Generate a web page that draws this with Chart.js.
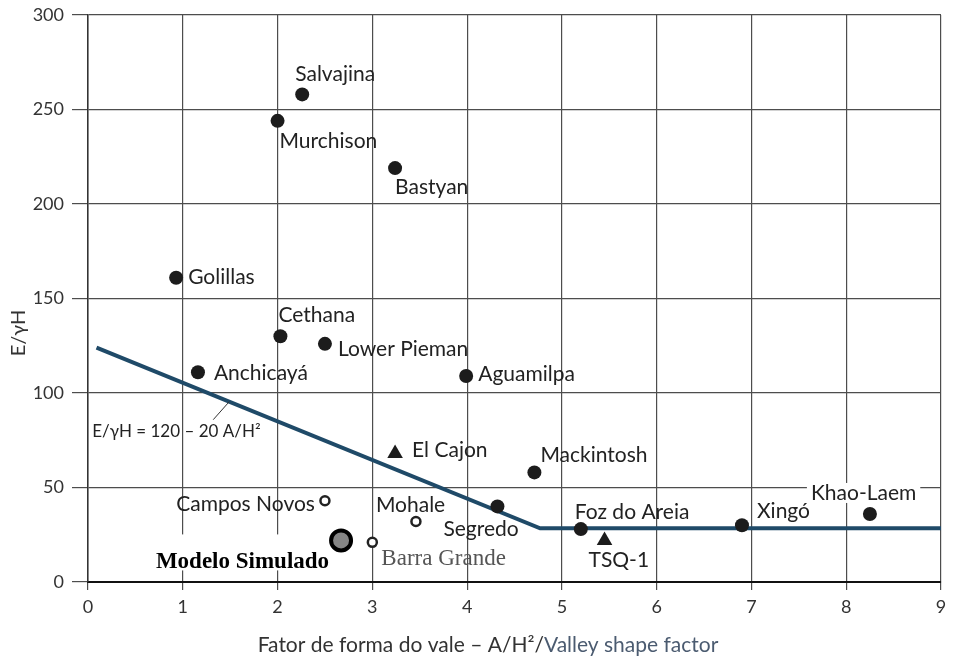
<!DOCTYPE html>
<html>
<head>
<meta charset="utf-8">
<script src="https://cdn.jsdelivr.net/npm/chart.js@4.4.1/dist/chart.umd.min.js"></script>
<style>
html, body { margin: 0; padding: 0; background: #fff; overflow: hidden; }
#wrap { position: relative; width: 955px; height: 659px; }
canvas { display: block; }
</style>
</head>
<body>
<div id="wrap"><canvas id="grafico"></canvas></div>
<script>
// eixos
const xMin = 0, xMax = 9
const yMin = 0, yMax = 300, yPasso = 50

// barragens (circulo cheio)
const barragens = ['Salvajina', 'Murchison', 'Bastyan', 'Golillas', 'Cethana', 'Lower Pieman',
    'Anchicayá', 'Aguamilpa', 'Mackintosh', 'Segredo', 'Foz do Areia', 'Xingó', 'Khao-Laem']
const barragemX = [2.26, 2.0, 3.24, 0.93, 2.03, 2.5, 1.16, 3.99, 4.71, 4.32, 5.2, 6.9, 8.25]
const barragemY = [258, 244, 219, 161, 130, 126, 111, 109, 58, 40, 28, 30, 36]

// triangulos
const triangulos = ['El Cajon', 'TSQ-1']
const trianguloX = [3.24, 5.45]
const trianguloY = [68, 22]

// circulos abertos
const abertos = ['Campos Novos', 'Mohale', 'Barra Grande']
const abertoX = [2.5, 3.46, 3.0]
const abertoY = [43, 32, 21]

// modelo
const modelo = ['Modelo Simulado']
const modeloX = [2.67]
const modeloY = [22]

// reta E/γH = 120 - 20 A/H²
const retaX = [0.09, 4.77, 9]
const retaY = [124, 28.4, 28.4]
const equacao = 'E/γH = 120 – 20 A/H²'

const tituloX1 = 'Fator de forma do vale – A/H²/'
const tituloX2 = 'Valley shape factor'
const tituloY = 'E/γH'

const pontos = (xs, ys) => xs.map((x, i) => ({ x: x, y: ys[i] }))

// deslocamento dos rotulos em px: [dx, dy, alinhamento]
const posicao = {
    'Salvajina': [-7, -20, 'left'],
    'Murchison': [2, 20, 'left'],
    'Bastyan': [0, 19, 'left'],
    'Golillas': [12, 0, 'left'],
    'Cethana': [-2, -21, 'left'],
    'Lower Pieman': [13, 5, 'left'],
    'Anchicayá': [16, 1, 'left'],
    'Aguamilpa': [12, -2, 'left'],
    'El Cajon': [17, -3, 'left'],
    'Mackintosh': [6, -17, 'left'],
    'Segredo': [-54, 23, 'left'],
    'Foz do Areia': [-6, -17, 'left'],
    'Xingó': [15, -14, 'left'],
    'Khao-Laem': [-59, -21, 'left'],
    'TSQ-1': [-16, 20, 'left'],
    'Campos Novos': [-10, 4, 'right'],
    'Mohale': [-40, -16, 'left'],
    'Barra Grande': [9, 17, 'left'],
    'Modelo Simulado': [-12, 22, 'right'],
}
const fonteSans = '21px Lato'
const fundoBranco = ['Khao-Laem']

const grupos = () => [
    [barragens, barragemX, barragemY],
    [triangulos, trianguloX, trianguloY],
    [abertos, abertoX, abertoY],
    [modelo, modeloX, modeloY],
]

const fonteDe = (nome) => {
    if (nome == 'Modelo Simulado') return 'bold 23px "Liberation Serif"'
    if (nome == 'Barra Grande') return '23px "Liberation Serif"'
    return fonteSans
}

const rotulos = {
    id: 'rotulos',
    beforeDatasetsDraw(chart) {
        const ctx = chart.ctx
        const sx = chart.scales.x, sy = chart.scales.y
        ctx.save()
        ctx.fillStyle = '#fff'
        grupos().forEach(([nomes, xs, ys]) => {
            nomes.forEach((nome, i) => {
                const p = posicao[nome]
                const px = sx.getPixelForValue(xs[i]) + p[0]
                const py = sy.getPixelForValue(ys[i]) + p[1]
                ctx.font = fonteDe(nome)
                const w = ctx.measureText(nome).width
                const x0 = p[2] == 'right' ? px - w : px
                if (nome == 'Modelo Simulado') {
                    ctx.fillRect(x0 - 14, py - 28, w + 20, 26 + 10)
                } else if (fundoBranco.includes(nome)) {
                    ctx.fillRect(x0 - 4, py - 10, w + 8, 20)
                }
            })
        })
        ctx.restore()
    },
    afterDatasetsDraw(chart) {
        const ctx = chart.ctx
        const sx = chart.scales.x, sy = chart.scales.y
        ctx.save()
        ctx.textBaseline = 'middle'
        grupos().forEach(([nomes, xs, ys]) => {
            nomes.forEach((nome, i) => {
                const p = posicao[nome]
                ctx.font = fonteDe(nome)
                ctx.fillStyle = nome == 'Barra Grande' ? '#555' : (nome == 'Modelo Simulado' ? '#000' : '#222')
                ctx.textAlign = p[2]
                ctx.fillText(nome, sx.getPixelForValue(xs[i]) + p[0], sy.getPixelForValue(ys[i]) + p[1])
            })
        })

        // equacao com linha de chamada
        const ax = 1.49
        const ay = retaY[0] + (retaY[1] - retaY[0]) * (ax - retaX[0]) / (retaX[1] - retaX[0])
        const lx = sx.getPixelForValue(ax), ly = sy.getPixelForValue(ay)
        ctx.strokeStyle = '#333'
        ctx.lineWidth = 1
        ctx.beginPath()
        ctx.moveTo(lx, ly)
        ctx.lineTo(lx - 16, ly + 18)
        ctx.stroke()
        ctx.font = '17px Lato'
        ctx.fillStyle = '#222'
        ctx.textAlign = 'left'
        ctx.fillText(equacao, lx - 137, ly + 30)

        // titulo eixo x em duas cores
        ctx.font = '21px Lato'
        const w1 = ctx.measureText(tituloX1).width
        const w2 = ctx.measureText(tituloX2).width
        const x0 = 488 - (w1 + w2) / 2
        ctx.fillStyle = '#333'
        ctx.fillText(tituloX1, x0, 645)
        ctx.fillStyle = '#4b5b70'
        ctx.fillText(tituloX2, x0 + w1, 645)

        // titulo eixo y
        ctx.translate(19, 333)
        ctx.rotate(-Math.PI / 2)
        ctx.textAlign = 'center'
        ctx.font = '20px Lato'
        ctx.fillStyle = '#333'
        ctx.fillText(tituloY, 0, 0)
        ctx.restore()
    }
}

const config = {
    type: 'scatter',
    data: {
        datasets: [
            {
                label: 'Modelo Simulado',
                data: pontos(modeloX, modeloY),
                pointStyle: 'circle',
                pointRadius: 10,
                backgroundColor: '#858585',
                borderColor: '#000',
                borderWidth: 4,
            },
            {
                label: 'Barragens',
                data: pontos(barragemX, barragemY),
                pointStyle: 'circle',
                pointRadius: 7,
                backgroundColor: '#1c1c1c',
                borderColor: '#1c1c1c',
                borderWidth: 0,
            },
            {
                label: 'Triangulos',
                data: pontos(trianguloX, trianguloY),
                pointStyle: 'triangle',
                pointRadius: 9,
                backgroundColor: '#1c1c1c',
                borderColor: '#1c1c1c',
                borderWidth: 0,
            },
            {
                label: 'Abertos',
                data: pontos(abertoX, abertoY),
                pointStyle: 'circle',
                pointRadius: 4.5,
                backgroundColor: '#fff',
                borderColor: '#222',
                borderWidth: 2.5,
            },
            {
                label: 'E/γH',
                data: pontos(retaX, retaY),
                showLine: true,
                borderColor: '#1f4a68',
                borderWidth: 4,
                pointRadius: 0,
                fill: false,
            },
        ]
    },
    options: {
        responsive: true,
        maintainAspectRatio: false,
        devicePixelRatio: 1,
        animation: false,
        layout: { padding: { top: 15, right: 7, left: 0, bottom: 0 } },
        plugins: {
            legend: { display: false },
            tooltip: { enabled: false },
        },
        scales: {
            x: {
                type: 'linear',
                min: xMin,
                max: xMax,
                ticks: {
                    stepSize: 1,
                    color: '#333',
                    font: { family: 'Lato', size: 18 },
                    padding: 6,
                },
                grid: { color: '#4d4d4d', lineWidth: 1.2, tickLength: 8 },
                border: { color: '#111', width: 2 },
                afterFit: (scale) => {
                    scale.height = 77
                    scale.paddingRight = 0
                    scale.paddingLeft = 0
                },
            },
            y: {
                type: 'linear',
                min: yMin,
                max: yMax,
                ticks: {
                    stepSize: yPasso,
                    color: '#333',
                    font: { family: 'Lato', size: 18 },
                    padding: 8,
                },
                grid: { color: '#4d4d4d', lineWidth: 1.2, tickLength: 16 },
                border: { color: '#333', width: 1.5 },
                afterFit: (scale) => {
                    scale.width = 88
                    scale.paddingTop = 0
                    scale.paddingBottom = 0
                },
            }
        }
    },
    plugins: [rotulos]
}

const grafico = new Chart(document.getElementById('grafico'), config)
</script>
</body>
</html>
